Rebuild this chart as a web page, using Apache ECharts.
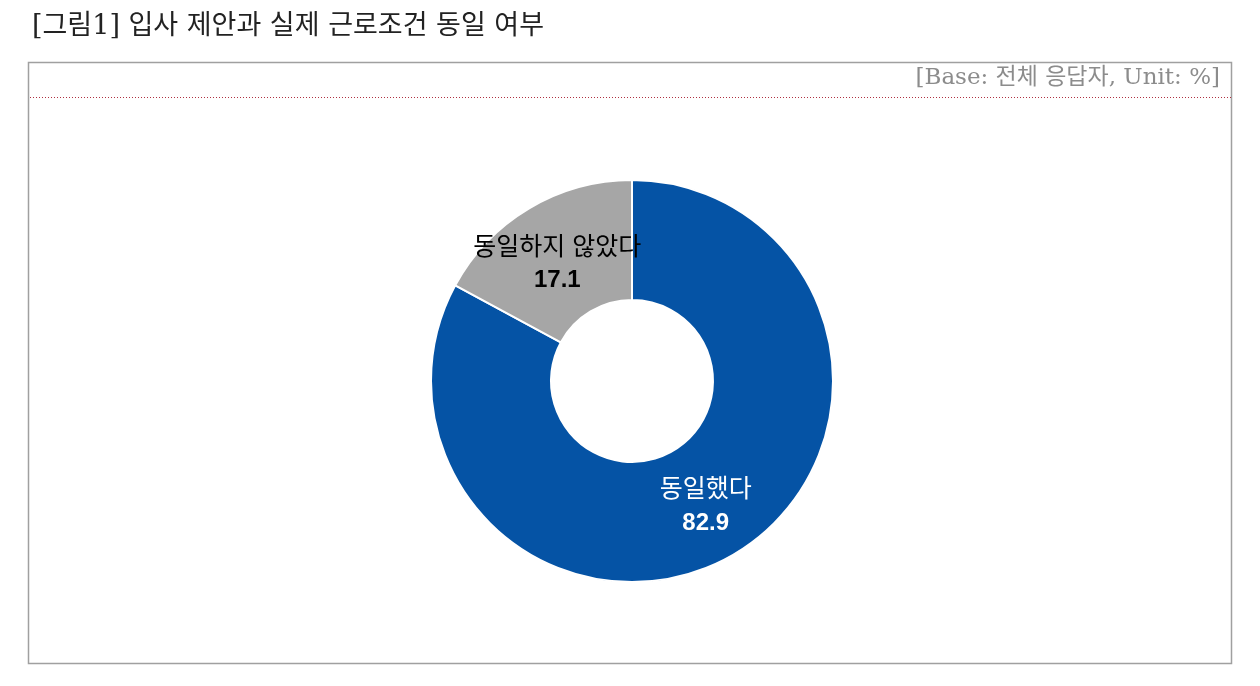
<!DOCTYPE html>
<html>
<head>
<meta charset="utf-8">
<script src="https://cdn.jsdelivr.net/npm/echarts@6/dist/echarts.min.js"></script>
<style>
html, body { margin: 0; padding: 0; background: #fff; }
#main { width: 1260px; height: 686px; }
</style>
</head>
<body>
<div id="main"></div>
<script>
// data
var categories = ['동일했다', '동일하지 않았다'];
var values = [82.9, 17.1];
var colors = ['#0553A5', '#A6A6A6'];
var labelColors = ['#ffffff', '#000000'];
var labelShift = [[0, 2], [-1, 7]];

var serif = '"DejaVu Serif", "Liberation Serif", "Noto Sans CJK KR", serif';
var sans = 'Arial, "Liberation Sans", "Noto Sans CJK KR", sans-serif';

var myChart = echarts.init(document.getElementById('main'));

var pieData = categories.map(function (name, i) {
	return {
		name: name,
		value: values[i],
		itemStyle: { color: colors[i] },
		label: {
			offset: labelShift[i],
			rich: {
				n: { color: labelColors[i], fontSize: 25, fontFamily: sans, lineHeight: 33 },
				v: { color: labelColors[i], fontSize: 24, fontWeight: 'bold', fontFamily: sans, lineHeight: 33 }
			}
		}
	};
});

option = {
	backgroundColor: '#ffffff',
	animation: false,
	graphic: [
		{
			type: 'text',
			left: 32, top: 13,
			style: { text: '[그림1] 입사 제안과 실제 근로조건 동일 여부', fill: '#222', fontSize: 27, fontFamily: serif }
		},
		{
			type: 'rect',
			shape: { x: 28.5, y: 62.5, width: 1203, height: 601 },
			style: { fill: 'none', stroke: '#a0a0a0', lineWidth: 1.5 }
		},
		{
			type: 'line',
			shape: { x1: 30, y1: 97.5, x2: 1231, y2: 97.5 },
			style: { stroke: '#b03040', lineWidth: 1, lineDash: [1, 2] }
		},
		{
			type: 'text',
			right: 40, top: 67,
			style: { text: '[Base: 전체 응답자, Unit: %]', fill: '#8c8c8c', fontSize: 23, fontFamily: serif }
		}
	],
	series: [
		{
			name: '동일 여부',
			type: 'pie',
			center: [632, 381],
			radius: [81, 201],
			startAngle: 90,
			clockwise: true,
			itemStyle: { borderColor: '#ffffff', borderWidth: 2 },
			label: {
				show: true,
				position: 'inside',
				formatter: function (p) {
					return '{n|' + p.name + '}\n{v|' + p.value.toFixed(1) + '}';
				}
			},
			labelLine: { show: false },
			emphasis: { disabled: true },
			data: pieData
		}
	]
};
myChart.setOption(option);
</script>
</body>
</html>
